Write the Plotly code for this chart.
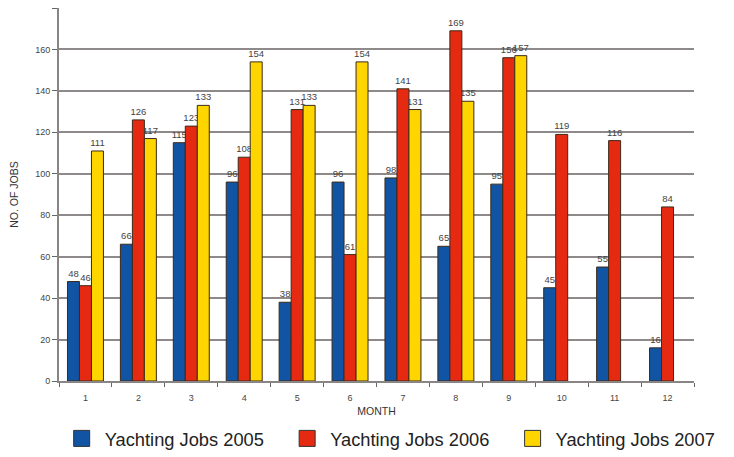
import plotly.graph_objects as go

months = ["1", "2", "3", "4", "5", "6", "7", "8", "9", "10", "11", "12"]
jobs_2005 = [48, 66, 115, 96, 38, 96, 98, 65, 95, 45, 55, 16]
jobs_2006 = [46, 126, 123, 108, 131, 61, 141, 169, 156, 119, 116, 84]
jobs_2007 = [111, 117, 133, 154, 133, 154, 131, 135, 157, None, None, None]
series_names = ["Yachting Jobs 2005", "Yachting Jobs 2006", "Yachting Jobs 2007"]
colors = ["#1254a4", "#e62a12", "#ffd500"]
y_ticks = [0, 20, 40, 60, 80, 100, 120, 140, 160, 180]

fig = go.Figure()
n = len(series_names)
for i, (name, vals, col) in enumerate(zip(series_names, [jobs_2005, jobs_2006, jobs_2007], colors)):
    fig.add_trace(go.Bar(
        x=months, y=vals, name=name, showlegend=False,
        marker=dict(color=col, line=dict(color="#3a2a1a", width=1)),
        text=[("" if v is None else str(v)) for v in vals],
        textposition="outside", cliponaxis=False, constraintext="none",
        textfont=dict(size=9.5, color="#444", family="Liberation Sans"),
    ))
    pad = "\u00a0" * 3 if i < n - 1 else ""
    fig.add_trace(go.Scatter(
        x=[None], y=[None], mode="markers", name=name + pad, showlegend=True,
        marker=dict(symbol="square", size=22, color=col, line=dict(color="#333", width=1)),
    ))

fig.update_layout(
    width=726, height=449,
    margin=dict(l=51, r=40, t=0, b=76),
    paper_bgcolor="white", plot_bgcolor="white",
    barmode="group", bargap=0.32, bargroupgap=0,
    font=dict(family="Liberation Sans", color="#444"),
    showlegend=True,
    legend=dict(orientation="h", x=-0.0005, xanchor="left", y=-0.2038, yanchor="bottom",
                bgcolor="rgba(0,0,0,0)",
                font=dict(size=18.3, color="#222", family="Liberation Sans"),
                itemwidth=36, tracegroupgap=0),
)
fig.update_xaxes(
    type="category", showline=True, linecolor="#8a8585", linewidth=2,
    ticks="outside", tickson="boundaries", ticklen=4, tickcolor="#666", tickwidth=1,
    tickfont=dict(size=9, color="#444"), showgrid=False, automargin=False,
    ticklabelstandoff=7,
    title=dict(text="MONTH", font=dict(size=10.5, color="#333"), standoff=6),
)
fig.update_yaxes(
    range=[0, 180], tickvals=y_ticks, showline=True, linecolor="#8a8585", linewidth=2,
    ticks="outside", ticklen=5, tickcolor="#666",
    tickfont=dict(size=9, color="#444"), automargin=False,
    showgrid=True, gridcolor="#8f8a8a", gridwidth=2, zeroline=False,
    title=dict(text="NO. OF JOBS", font=dict(size=10.5, color="#333"), standoff=15),
)

fig.write_html("out.html")
